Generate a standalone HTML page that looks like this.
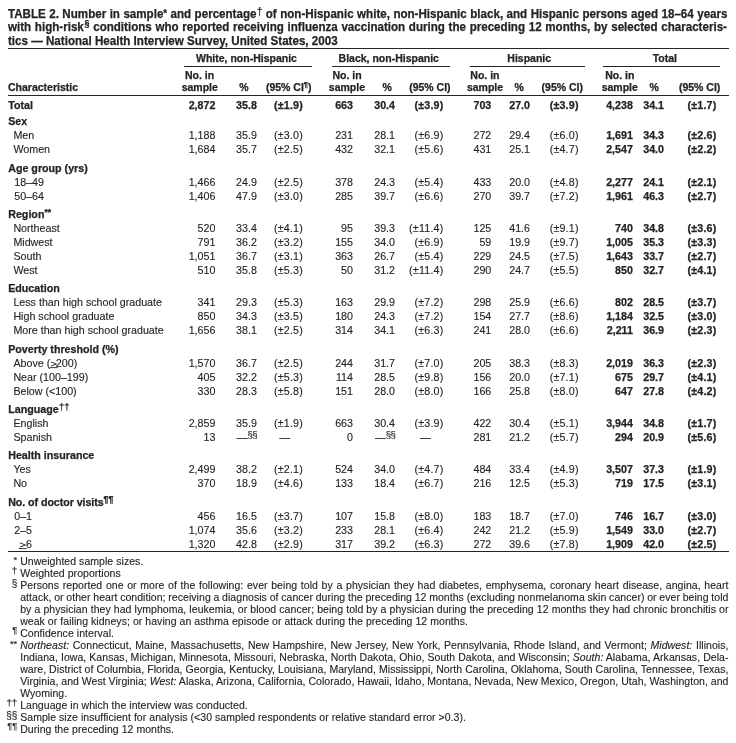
<!DOCTYPE html>
<html><head><meta charset="utf-8"><style>
html,body{margin:0;padding:0;background:#fff;}
body{filter:grayscale(1);width:736px;height:743px;position:relative;overflow:hidden;font-family:"Liberation Sans", sans-serif;color:#242424;-webkit-text-stroke:0.12px #242424;}
.t{position:absolute;white-space:nowrap;}
.j{white-space:normal;}
.r{position:absolute;background:#242424;}
sup{line-height:0;vertical-align:baseline;position:relative;}
sup.ta{top:-1.3px;font-size:10px;}
sup.td{top:-3.0px;margin-left:0.6px;font-size:10px;font-weight:normal;-webkit-text-stroke:0.25px currentColor;}
sup.ts{top:-4.6px;margin-left:0.8px;font-size:9.4px;}
sup.hp{top:-3.6px;font-size:7.5px;}
sup.la{top:-3.4px;font-size:8.5px;}
sup.ld{top:-3.2px;font-size:9.4px;font-weight:normal;-webkit-text-stroke:0.25px currentColor;margin-left:0.3px;}
sup.lp{top:-4.4px;font-size:8.8px;}
.ss{font-size:9.6px;position:relative;top:-2.6px;letter-spacing:-0.5px;}
.ge{vertical-align:-2px;overflow:visible;margin-right:0px;}
.ga .ge{margin-right:-1.4px;}
u{text-decoration:underline;text-decoration-thickness:1px;text-underline-offset:1px;}
</style></head><body>
<div class="t" style="top:8px;left:8.4px;font-size:12.2px;line-height:12.2px;transform:scaleX(0.951);transform-origin:0 0;font-weight:bold;-webkit-text-stroke:0.25px currentColor;word-spacing:0.262px;">TABLE 2. Number in sample<sup class="ta">*</sup> and percentage<sup class="td">†</sup> of non-Hispanic white, non-Hispanic black, and Hispanic persons aged 18–64 years</div>
<div class="t" style="top:21px;left:8.4px;font-size:12.2px;line-height:12.2px;transform:scaleX(0.951);transform-origin:0 0;font-weight:bold;-webkit-text-stroke:0.25px currentColor;word-spacing:0.471px;">with high-risk<sup class="ts">§</sup> conditions who reported receiving influenza vaccination during the preceding 12 months, by selected characteris-</div>
<div class="t" style="top:35px;left:8.4px;font-size:12.2px;line-height:12.2px;transform:scaleX(0.951);transform-origin:0 0;font-weight:bold;-webkit-text-stroke:0.25px currentColor;">tics — National Health Interview Survey, United States, 2003</div>
<div class="r" style="left:8px;top:48px;width:721px;height:1px"></div>
<div class="t" style="top:53px;font-size:10.5px;line-height:10.5px;font-weight:bold;-webkit-text-stroke:0.25px currentColor;left:196.00px;">White, non-Hispanic</div>
<div class="r" style="left:184px;top:66px;width:128px;height:1px"></div>
<div class="t" style="top:53px;font-size:10.5px;line-height:10.5px;font-weight:bold;-webkit-text-stroke:0.25px currentColor;left:338.60px;">Black, non-Hispanic</div>
<div class="r" style="left:332px;top:66px;width:118px;height:1px"></div>
<div class="t" style="top:53px;font-size:10.5px;line-height:10.5px;font-weight:bold;-webkit-text-stroke:0.25px currentColor;left:507.30px;">Hispanic</div>
<div class="r" style="left:470px;top:66px;width:115px;height:1px"></div>
<div class="t" style="top:53px;font-size:10.5px;line-height:10.5px;font-weight:bold;-webkit-text-stroke:0.25px currentColor;left:652.70px;">Total</div>
<div class="r" style="left:603px;top:66px;width:117px;height:1px"></div>
<div class="t" style="top:70px;font-size:10.5px;line-height:10.5px;font-weight:bold;-webkit-text-stroke:0.25px currentColor;left:185.00px;">No. in</div>
<div class="t" style="top:82px;font-size:10.5px;line-height:10.5px;font-weight:bold;-webkit-text-stroke:0.25px currentColor;left:181.70px;">sample</div>
<div class="t" style="top:82px;font-size:10.5px;line-height:10.5px;font-weight:bold;-webkit-text-stroke:0.25px currentColor;left:239.20px;">%</div>
<div class="t" style="top:82px;font-size:10.5px;line-height:10.5px;font-weight:bold;-webkit-text-stroke:0.25px currentColor;left:265.90px;">(95% CI<sup class="hp">¶</sup>)</div>
<div class="t" style="top:70px;font-size:10.5px;line-height:10.5px;font-weight:bold;-webkit-text-stroke:0.25px currentColor;left:332.40px;">No. in</div>
<div class="t" style="top:82px;font-size:10.5px;line-height:10.5px;font-weight:bold;-webkit-text-stroke:0.25px currentColor;left:328.80px;">sample</div>
<div class="t" style="top:82px;font-size:10.5px;line-height:10.5px;font-weight:bold;-webkit-text-stroke:0.25px currentColor;left:382.60px;">%</div>
<div class="t" style="top:82px;font-size:10.5px;line-height:10.5px;font-weight:bold;-webkit-text-stroke:0.25px currentColor;left:409.20px;">(95% CI)</div>
<div class="t" style="top:70px;font-size:10.5px;line-height:10.5px;font-weight:bold;-webkit-text-stroke:0.25px currentColor;left:470.30px;">No. in</div>
<div class="t" style="top:82px;font-size:10.5px;line-height:10.5px;font-weight:bold;-webkit-text-stroke:0.25px currentColor;left:466.90px;">sample</div>
<div class="t" style="top:82px;font-size:10.5px;line-height:10.5px;font-weight:bold;-webkit-text-stroke:0.25px currentColor;left:514.40px;">%</div>
<div class="t" style="top:82px;font-size:10.5px;line-height:10.5px;font-weight:bold;-webkit-text-stroke:0.25px currentColor;left:541.60px;">(95% CI)</div>
<div class="t" style="top:70px;font-size:10.5px;line-height:10.5px;font-weight:bold;-webkit-text-stroke:0.25px currentColor;left:605.20px;">No. in</div>
<div class="t" style="top:82px;font-size:10.5px;line-height:10.5px;font-weight:bold;-webkit-text-stroke:0.25px currentColor;left:601.70px;">sample</div>
<div class="t" style="top:82px;font-size:10.5px;line-height:10.5px;font-weight:bold;-webkit-text-stroke:0.25px currentColor;left:649.50px;">%</div>
<div class="t" style="top:82px;font-size:10.5px;line-height:10.5px;font-weight:bold;-webkit-text-stroke:0.25px currentColor;left:678.90px;">(95% CI)</div>
<div class="t" style="top:82px;font-size:10.5px;line-height:10.5px;font-weight:bold;-webkit-text-stroke:0.25px currentColor;left:8.00px;">Characteristic</div>
<div class="r" style="left:8px;top:95px;width:721px;height:1px"></div>
<div class="t" style="top:100px;font-size:10.7px;line-height:10.7px;font-weight:bold;-webkit-text-stroke:0.25px currentColor;left:8.20px;">Total</div>
<div class="t" style="top:100px;font-size:10.7px;line-height:10.7px;font-weight:bold;-webkit-text-stroke:0.25px currentColor;right:520.60px;">2,872</div>
<div class="t" style="top:100px;font-size:10.7px;line-height:10.7px;font-weight:bold;-webkit-text-stroke:0.25px currentColor;right:479.10px;">35.8</div>
<div class="t" style="top:100px;font-size:10.7px;line-height:10.7px;font-weight:bold;-webkit-text-stroke:0.25px currentColor;right:433.00px;letter-spacing:0.2px;">(±1.9)</div>
<div class="t" style="top:100px;font-size:10.7px;line-height:10.7px;font-weight:bold;-webkit-text-stroke:0.25px currentColor;right:383.00px;">663</div>
<div class="t" style="top:100px;font-size:10.7px;line-height:10.7px;font-weight:bold;-webkit-text-stroke:0.25px currentColor;right:341.00px;">30.4</div>
<div class="t" style="top:100px;font-size:10.7px;line-height:10.7px;font-weight:bold;-webkit-text-stroke:0.25px currentColor;right:292.50px;letter-spacing:0.2px;">(±3.9)</div>
<div class="t" style="top:100px;font-size:10.7px;line-height:10.7px;font-weight:bold;-webkit-text-stroke:0.25px currentColor;right:244.70px;">703</div>
<div class="t" style="top:100px;font-size:10.7px;line-height:10.7px;font-weight:bold;-webkit-text-stroke:0.25px currentColor;right:206.00px;">27.0</div>
<div class="t" style="top:100px;font-size:10.7px;line-height:10.7px;font-weight:bold;-webkit-text-stroke:0.25px currentColor;right:157.30px;letter-spacing:0.2px;">(±3.9)</div>
<div class="t" style="top:100px;font-size:10.7px;line-height:10.7px;font-weight:bold;-webkit-text-stroke:0.25px currentColor;right:103.10px;">4,238</div>
<div class="t" style="top:100px;font-size:10.7px;line-height:10.7px;font-weight:bold;-webkit-text-stroke:0.25px currentColor;right:72.00px;">34.1</div>
<div class="t" style="top:100px;font-size:10.7px;line-height:10.7px;font-weight:bold;-webkit-text-stroke:0.25px currentColor;right:19.50px;letter-spacing:0.2px;">(±1.7)</div>
<div class="t" style="top:116px;font-size:10.7px;line-height:10.7px;font-weight:bold;-webkit-text-stroke:0.25px currentColor;left:8.20px;">Sex</div>
<div class="t" style="top:130px;font-size:10.7px;line-height:10.7px;left:13.40px;">Men</div>
<div class="t" style="top:130px;font-size:10.7px;line-height:10.7px;right:520.60px;">1,188</div>
<div class="t" style="top:130px;font-size:10.7px;line-height:10.7px;right:479.10px;">35.9</div>
<div class="t" style="top:130px;font-size:10.7px;line-height:10.7px;right:433.00px;letter-spacing:0.2px;">(±3.0)</div>
<div class="t" style="top:130px;font-size:10.7px;line-height:10.7px;right:383.00px;">231</div>
<div class="t" style="top:130px;font-size:10.7px;line-height:10.7px;right:341.00px;">28.1</div>
<div class="t" style="top:130px;font-size:10.7px;line-height:10.7px;right:292.50px;letter-spacing:0.2px;">(±6.9)</div>
<div class="t" style="top:130px;font-size:10.7px;line-height:10.7px;right:244.70px;">272</div>
<div class="t" style="top:130px;font-size:10.7px;line-height:10.7px;right:206.00px;">29.4</div>
<div class="t" style="top:130px;font-size:10.7px;line-height:10.7px;right:157.30px;letter-spacing:0.2px;">(±6.0)</div>
<div class="t" style="top:130px;font-size:10.7px;line-height:10.7px;font-weight:bold;-webkit-text-stroke:0.25px currentColor;right:103.10px;">1,691</div>
<div class="t" style="top:130px;font-size:10.7px;line-height:10.7px;font-weight:bold;-webkit-text-stroke:0.25px currentColor;right:72.00px;">34.3</div>
<div class="t" style="top:130px;font-size:10.7px;line-height:10.7px;font-weight:bold;-webkit-text-stroke:0.25px currentColor;right:19.50px;letter-spacing:0.2px;">(±2.6)</div>
<div class="t" style="top:144px;font-size:10.7px;line-height:10.7px;left:13.40px;">Women</div>
<div class="t" style="top:144px;font-size:10.7px;line-height:10.7px;right:520.60px;">1,684</div>
<div class="t" style="top:144px;font-size:10.7px;line-height:10.7px;right:479.10px;">35.7</div>
<div class="t" style="top:144px;font-size:10.7px;line-height:10.7px;right:433.00px;letter-spacing:0.2px;">(±2.5)</div>
<div class="t" style="top:144px;font-size:10.7px;line-height:10.7px;right:383.00px;">432</div>
<div class="t" style="top:144px;font-size:10.7px;line-height:10.7px;right:341.00px;">32.1</div>
<div class="t" style="top:144px;font-size:10.7px;line-height:10.7px;right:292.50px;letter-spacing:0.2px;">(±5.6)</div>
<div class="t" style="top:144px;font-size:10.7px;line-height:10.7px;right:244.70px;">431</div>
<div class="t" style="top:144px;font-size:10.7px;line-height:10.7px;right:206.00px;">25.1</div>
<div class="t" style="top:144px;font-size:10.7px;line-height:10.7px;right:157.30px;letter-spacing:0.2px;">(±4.7)</div>
<div class="t" style="top:144px;font-size:10.7px;line-height:10.7px;font-weight:bold;-webkit-text-stroke:0.25px currentColor;right:103.10px;">2,547</div>
<div class="t" style="top:144px;font-size:10.7px;line-height:10.7px;font-weight:bold;-webkit-text-stroke:0.25px currentColor;right:72.00px;">34.0</div>
<div class="t" style="top:144px;font-size:10.7px;line-height:10.7px;font-weight:bold;-webkit-text-stroke:0.25px currentColor;right:19.50px;letter-spacing:0.2px;">(±2.2)</div>
<div class="t" style="top:163px;font-size:10.7px;line-height:10.7px;font-weight:bold;-webkit-text-stroke:0.25px currentColor;left:8.20px;">Age group (yrs)</div>
<div class="t" style="top:177px;font-size:10.7px;line-height:10.7px;left:14.20px;">18–49</div>
<div class="t" style="top:177px;font-size:10.7px;line-height:10.7px;right:520.60px;">1,466</div>
<div class="t" style="top:177px;font-size:10.7px;line-height:10.7px;right:479.10px;">24.9</div>
<div class="t" style="top:177px;font-size:10.7px;line-height:10.7px;right:433.00px;letter-spacing:0.2px;">(±2.5)</div>
<div class="t" style="top:177px;font-size:10.7px;line-height:10.7px;right:383.00px;">378</div>
<div class="t" style="top:177px;font-size:10.7px;line-height:10.7px;right:341.00px;">24.3</div>
<div class="t" style="top:177px;font-size:10.7px;line-height:10.7px;right:292.50px;letter-spacing:0.2px;">(±5.4)</div>
<div class="t" style="top:177px;font-size:10.7px;line-height:10.7px;right:244.70px;">433</div>
<div class="t" style="top:177px;font-size:10.7px;line-height:10.7px;right:206.00px;">20.0</div>
<div class="t" style="top:177px;font-size:10.7px;line-height:10.7px;right:157.30px;letter-spacing:0.2px;">(±4.8)</div>
<div class="t" style="top:177px;font-size:10.7px;line-height:10.7px;font-weight:bold;-webkit-text-stroke:0.25px currentColor;right:103.10px;">2,277</div>
<div class="t" style="top:177px;font-size:10.7px;line-height:10.7px;font-weight:bold;-webkit-text-stroke:0.25px currentColor;right:72.00px;">24.1</div>
<div class="t" style="top:177px;font-size:10.7px;line-height:10.7px;font-weight:bold;-webkit-text-stroke:0.25px currentColor;right:19.50px;letter-spacing:0.2px;">(±2.1)</div>
<div class="t" style="top:191px;font-size:10.7px;line-height:10.7px;left:14.20px;">50–64</div>
<div class="t" style="top:191px;font-size:10.7px;line-height:10.7px;right:520.60px;">1,406</div>
<div class="t" style="top:191px;font-size:10.7px;line-height:10.7px;right:479.10px;">47.9</div>
<div class="t" style="top:191px;font-size:10.7px;line-height:10.7px;right:433.00px;letter-spacing:0.2px;">(±3.0)</div>
<div class="t" style="top:191px;font-size:10.7px;line-height:10.7px;right:383.00px;">285</div>
<div class="t" style="top:191px;font-size:10.7px;line-height:10.7px;right:341.00px;">39.7</div>
<div class="t" style="top:191px;font-size:10.7px;line-height:10.7px;right:292.50px;letter-spacing:0.2px;">(±6.6)</div>
<div class="t" style="top:191px;font-size:10.7px;line-height:10.7px;right:244.70px;">270</div>
<div class="t" style="top:191px;font-size:10.7px;line-height:10.7px;right:206.00px;">39.7</div>
<div class="t" style="top:191px;font-size:10.7px;line-height:10.7px;right:157.30px;letter-spacing:0.2px;">(±7.2)</div>
<div class="t" style="top:191px;font-size:10.7px;line-height:10.7px;font-weight:bold;-webkit-text-stroke:0.25px currentColor;right:103.10px;">1,961</div>
<div class="t" style="top:191px;font-size:10.7px;line-height:10.7px;font-weight:bold;-webkit-text-stroke:0.25px currentColor;right:72.00px;">46.3</div>
<div class="t" style="top:191px;font-size:10.7px;line-height:10.7px;font-weight:bold;-webkit-text-stroke:0.25px currentColor;right:19.50px;letter-spacing:0.2px;">(±2.7)</div>
<div class="t" style="top:209px;font-size:10.7px;line-height:10.7px;font-weight:bold;-webkit-text-stroke:0.25px currentColor;left:8.20px;">Region<sup class="la">**</sup></div>
<div class="t" style="top:223px;font-size:10.7px;line-height:10.7px;left:13.40px;">Northeast</div>
<div class="t" style="top:223px;font-size:10.7px;line-height:10.7px;right:520.60px;">520</div>
<div class="t" style="top:223px;font-size:10.7px;line-height:10.7px;right:479.10px;">33.4</div>
<div class="t" style="top:223px;font-size:10.7px;line-height:10.7px;right:433.00px;letter-spacing:0.2px;">(±4.1)</div>
<div class="t" style="top:223px;font-size:10.7px;line-height:10.7px;right:383.00px;">95</div>
<div class="t" style="top:223px;font-size:10.7px;line-height:10.7px;right:341.00px;">39.3</div>
<div class="t" style="top:223px;font-size:10.7px;line-height:10.7px;right:292.50px;letter-spacing:0.2px;">(±11.4)</div>
<div class="t" style="top:223px;font-size:10.7px;line-height:10.7px;right:244.70px;">125</div>
<div class="t" style="top:223px;font-size:10.7px;line-height:10.7px;right:206.00px;">41.6</div>
<div class="t" style="top:223px;font-size:10.7px;line-height:10.7px;right:157.30px;letter-spacing:0.2px;">(±9.1)</div>
<div class="t" style="top:223px;font-size:10.7px;line-height:10.7px;font-weight:bold;-webkit-text-stroke:0.25px currentColor;right:103.10px;">740</div>
<div class="t" style="top:223px;font-size:10.7px;line-height:10.7px;font-weight:bold;-webkit-text-stroke:0.25px currentColor;right:72.00px;">34.8</div>
<div class="t" style="top:223px;font-size:10.7px;line-height:10.7px;font-weight:bold;-webkit-text-stroke:0.25px currentColor;right:19.50px;letter-spacing:0.2px;">(±3.6)</div>
<div class="t" style="top:237px;font-size:10.7px;line-height:10.7px;left:13.40px;">Midwest</div>
<div class="t" style="top:237px;font-size:10.7px;line-height:10.7px;right:520.60px;">791</div>
<div class="t" style="top:237px;font-size:10.7px;line-height:10.7px;right:479.10px;">36.2</div>
<div class="t" style="top:237px;font-size:10.7px;line-height:10.7px;right:433.00px;letter-spacing:0.2px;">(±3.2)</div>
<div class="t" style="top:237px;font-size:10.7px;line-height:10.7px;right:383.00px;">155</div>
<div class="t" style="top:237px;font-size:10.7px;line-height:10.7px;right:341.00px;">34.0</div>
<div class="t" style="top:237px;font-size:10.7px;line-height:10.7px;right:292.50px;letter-spacing:0.2px;">(±6.9)</div>
<div class="t" style="top:237px;font-size:10.7px;line-height:10.7px;right:244.70px;">59</div>
<div class="t" style="top:237px;font-size:10.7px;line-height:10.7px;right:206.00px;">19.9</div>
<div class="t" style="top:237px;font-size:10.7px;line-height:10.7px;right:157.30px;letter-spacing:0.2px;">(±9.7)</div>
<div class="t" style="top:237px;font-size:10.7px;line-height:10.7px;font-weight:bold;-webkit-text-stroke:0.25px currentColor;right:103.10px;">1,005</div>
<div class="t" style="top:237px;font-size:10.7px;line-height:10.7px;font-weight:bold;-webkit-text-stroke:0.25px currentColor;right:72.00px;">35.3</div>
<div class="t" style="top:237px;font-size:10.7px;line-height:10.7px;font-weight:bold;-webkit-text-stroke:0.25px currentColor;right:19.50px;letter-spacing:0.2px;">(±3.3)</div>
<div class="t" style="top:251px;font-size:10.7px;line-height:10.7px;left:13.40px;">South</div>
<div class="t" style="top:251px;font-size:10.7px;line-height:10.7px;right:520.60px;">1,051</div>
<div class="t" style="top:251px;font-size:10.7px;line-height:10.7px;right:479.10px;">36.7</div>
<div class="t" style="top:251px;font-size:10.7px;line-height:10.7px;right:433.00px;letter-spacing:0.2px;">(±3.1)</div>
<div class="t" style="top:251px;font-size:10.7px;line-height:10.7px;right:383.00px;">363</div>
<div class="t" style="top:251px;font-size:10.7px;line-height:10.7px;right:341.00px;">26.7</div>
<div class="t" style="top:251px;font-size:10.7px;line-height:10.7px;right:292.50px;letter-spacing:0.2px;">(±5.4)</div>
<div class="t" style="top:251px;font-size:10.7px;line-height:10.7px;right:244.70px;">229</div>
<div class="t" style="top:251px;font-size:10.7px;line-height:10.7px;right:206.00px;">24.5</div>
<div class="t" style="top:251px;font-size:10.7px;line-height:10.7px;right:157.30px;letter-spacing:0.2px;">(±7.5)</div>
<div class="t" style="top:251px;font-size:10.7px;line-height:10.7px;font-weight:bold;-webkit-text-stroke:0.25px currentColor;right:103.10px;">1,643</div>
<div class="t" style="top:251px;font-size:10.7px;line-height:10.7px;font-weight:bold;-webkit-text-stroke:0.25px currentColor;right:72.00px;">33.7</div>
<div class="t" style="top:251px;font-size:10.7px;line-height:10.7px;font-weight:bold;-webkit-text-stroke:0.25px currentColor;right:19.50px;letter-spacing:0.2px;">(±2.7)</div>
<div class="t" style="top:265px;font-size:10.7px;line-height:10.7px;left:13.40px;">West</div>
<div class="t" style="top:265px;font-size:10.7px;line-height:10.7px;right:520.60px;">510</div>
<div class="t" style="top:265px;font-size:10.7px;line-height:10.7px;right:479.10px;">35.8</div>
<div class="t" style="top:265px;font-size:10.7px;line-height:10.7px;right:433.00px;letter-spacing:0.2px;">(±5.3)</div>
<div class="t" style="top:265px;font-size:10.7px;line-height:10.7px;right:383.00px;">50</div>
<div class="t" style="top:265px;font-size:10.7px;line-height:10.7px;right:341.00px;">31.2</div>
<div class="t" style="top:265px;font-size:10.7px;line-height:10.7px;right:292.50px;letter-spacing:0.2px;">(±11.4)</div>
<div class="t" style="top:265px;font-size:10.7px;line-height:10.7px;right:244.70px;">290</div>
<div class="t" style="top:265px;font-size:10.7px;line-height:10.7px;right:206.00px;">24.7</div>
<div class="t" style="top:265px;font-size:10.7px;line-height:10.7px;right:157.30px;letter-spacing:0.2px;">(±5.5)</div>
<div class="t" style="top:265px;font-size:10.7px;line-height:10.7px;font-weight:bold;-webkit-text-stroke:0.25px currentColor;right:103.10px;">850</div>
<div class="t" style="top:265px;font-size:10.7px;line-height:10.7px;font-weight:bold;-webkit-text-stroke:0.25px currentColor;right:72.00px;">32.7</div>
<div class="t" style="top:265px;font-size:10.7px;line-height:10.7px;font-weight:bold;-webkit-text-stroke:0.25px currentColor;right:19.50px;letter-spacing:0.2px;">(±4.1)</div>
<div class="t" style="top:283px;font-size:10.7px;line-height:10.7px;font-weight:bold;-webkit-text-stroke:0.25px currentColor;left:8.20px;">Education</div>
<div class="t" style="top:297px;font-size:10.7px;line-height:10.7px;left:13.40px;">Less than high school graduate</div>
<div class="t" style="top:297px;font-size:10.7px;line-height:10.7px;right:520.60px;">341</div>
<div class="t" style="top:297px;font-size:10.7px;line-height:10.7px;right:479.10px;">29.3</div>
<div class="t" style="top:297px;font-size:10.7px;line-height:10.7px;right:433.00px;letter-spacing:0.2px;">(±5.3)</div>
<div class="t" style="top:297px;font-size:10.7px;line-height:10.7px;right:383.00px;">163</div>
<div class="t" style="top:297px;font-size:10.7px;line-height:10.7px;right:341.00px;">29.9</div>
<div class="t" style="top:297px;font-size:10.7px;line-height:10.7px;right:292.50px;letter-spacing:0.2px;">(±7.2)</div>
<div class="t" style="top:297px;font-size:10.7px;line-height:10.7px;right:244.70px;">298</div>
<div class="t" style="top:297px;font-size:10.7px;line-height:10.7px;right:206.00px;">25.9</div>
<div class="t" style="top:297px;font-size:10.7px;line-height:10.7px;right:157.30px;letter-spacing:0.2px;">(±6.6)</div>
<div class="t" style="top:297px;font-size:10.7px;line-height:10.7px;font-weight:bold;-webkit-text-stroke:0.25px currentColor;right:103.10px;">802</div>
<div class="t" style="top:297px;font-size:10.7px;line-height:10.7px;font-weight:bold;-webkit-text-stroke:0.25px currentColor;right:72.00px;">28.5</div>
<div class="t" style="top:297px;font-size:10.7px;line-height:10.7px;font-weight:bold;-webkit-text-stroke:0.25px currentColor;right:19.50px;letter-spacing:0.2px;">(±3.7)</div>
<div class="t" style="top:311px;font-size:10.7px;line-height:10.7px;left:13.40px;">High school graduate</div>
<div class="t" style="top:311px;font-size:10.7px;line-height:10.7px;right:520.60px;">850</div>
<div class="t" style="top:311px;font-size:10.7px;line-height:10.7px;right:479.10px;">34.3</div>
<div class="t" style="top:311px;font-size:10.7px;line-height:10.7px;right:433.00px;letter-spacing:0.2px;">(±3.5)</div>
<div class="t" style="top:311px;font-size:10.7px;line-height:10.7px;right:383.00px;">180</div>
<div class="t" style="top:311px;font-size:10.7px;line-height:10.7px;right:341.00px;">24.3</div>
<div class="t" style="top:311px;font-size:10.7px;line-height:10.7px;right:292.50px;letter-spacing:0.2px;">(±7.2)</div>
<div class="t" style="top:311px;font-size:10.7px;line-height:10.7px;right:244.70px;">154</div>
<div class="t" style="top:311px;font-size:10.7px;line-height:10.7px;right:206.00px;">27.7</div>
<div class="t" style="top:311px;font-size:10.7px;line-height:10.7px;right:157.30px;letter-spacing:0.2px;">(±8.6)</div>
<div class="t" style="top:311px;font-size:10.7px;line-height:10.7px;font-weight:bold;-webkit-text-stroke:0.25px currentColor;right:103.10px;">1,184</div>
<div class="t" style="top:311px;font-size:10.7px;line-height:10.7px;font-weight:bold;-webkit-text-stroke:0.25px currentColor;right:72.00px;">32.5</div>
<div class="t" style="top:311px;font-size:10.7px;line-height:10.7px;font-weight:bold;-webkit-text-stroke:0.25px currentColor;right:19.50px;letter-spacing:0.2px;">(±3.0)</div>
<div class="t" style="top:325px;font-size:10.7px;line-height:10.7px;left:13.40px;">More than high school graduate</div>
<div class="t" style="top:325px;font-size:10.7px;line-height:10.7px;right:520.60px;">1,656</div>
<div class="t" style="top:325px;font-size:10.7px;line-height:10.7px;right:479.10px;">38.1</div>
<div class="t" style="top:325px;font-size:10.7px;line-height:10.7px;right:433.00px;letter-spacing:0.2px;">(±2.5)</div>
<div class="t" style="top:325px;font-size:10.7px;line-height:10.7px;right:383.00px;">314</div>
<div class="t" style="top:325px;font-size:10.7px;line-height:10.7px;right:341.00px;">34.1</div>
<div class="t" style="top:325px;font-size:10.7px;line-height:10.7px;right:292.50px;letter-spacing:0.2px;">(±6.3)</div>
<div class="t" style="top:325px;font-size:10.7px;line-height:10.7px;right:244.70px;">241</div>
<div class="t" style="top:325px;font-size:10.7px;line-height:10.7px;right:206.00px;">28.0</div>
<div class="t" style="top:325px;font-size:10.7px;line-height:10.7px;right:157.30px;letter-spacing:0.2px;">(±6.6)</div>
<div class="t" style="top:325px;font-size:10.7px;line-height:10.7px;font-weight:bold;-webkit-text-stroke:0.25px currentColor;right:103.10px;">2,211</div>
<div class="t" style="top:325px;font-size:10.7px;line-height:10.7px;font-weight:bold;-webkit-text-stroke:0.25px currentColor;right:72.00px;">36.9</div>
<div class="t" style="top:325px;font-size:10.7px;line-height:10.7px;font-weight:bold;-webkit-text-stroke:0.25px currentColor;right:19.50px;letter-spacing:0.2px;">(±2.3)</div>
<div class="t" style="top:344px;font-size:10.7px;line-height:10.7px;font-weight:bold;-webkit-text-stroke:0.25px currentColor;left:8.20px;">Poverty threshold (%)</div>
<div class="t ga" style="top:358px;font-size:10.7px;line-height:10.7px;left:13.40px;">Above (<svg class="ge" width="7" height="10" viewBox="0 0 7 10"><polyline points="1,2.9 6.4,5 1,7.1" fill="none" stroke="currentColor" stroke-width="0.95" stroke-linejoin="round"/><rect x="-0.2" y="8.2" width="7.9" height="0.9" fill="currentColor"/></svg>200)</div>
<div class="t" style="top:358px;font-size:10.7px;line-height:10.7px;right:520.60px;">1,570</div>
<div class="t" style="top:358px;font-size:10.7px;line-height:10.7px;right:479.10px;">36.7</div>
<div class="t" style="top:358px;font-size:10.7px;line-height:10.7px;right:433.00px;letter-spacing:0.2px;">(±2.5)</div>
<div class="t" style="top:358px;font-size:10.7px;line-height:10.7px;right:383.00px;">244</div>
<div class="t" style="top:358px;font-size:10.7px;line-height:10.7px;right:341.00px;">31.7</div>
<div class="t" style="top:358px;font-size:10.7px;line-height:10.7px;right:292.50px;letter-spacing:0.2px;">(±7.0)</div>
<div class="t" style="top:358px;font-size:10.7px;line-height:10.7px;right:244.70px;">205</div>
<div class="t" style="top:358px;font-size:10.7px;line-height:10.7px;right:206.00px;">38.3</div>
<div class="t" style="top:358px;font-size:10.7px;line-height:10.7px;right:157.30px;letter-spacing:0.2px;">(±8.3)</div>
<div class="t" style="top:358px;font-size:10.7px;line-height:10.7px;font-weight:bold;-webkit-text-stroke:0.25px currentColor;right:103.10px;">2,019</div>
<div class="t" style="top:358px;font-size:10.7px;line-height:10.7px;font-weight:bold;-webkit-text-stroke:0.25px currentColor;right:72.00px;">36.3</div>
<div class="t" style="top:358px;font-size:10.7px;line-height:10.7px;font-weight:bold;-webkit-text-stroke:0.25px currentColor;right:19.50px;letter-spacing:0.2px;">(±2.3)</div>
<div class="t" style="top:372px;font-size:10.7px;line-height:10.7px;left:13.40px;">Near (100–199)</div>
<div class="t" style="top:372px;font-size:10.7px;line-height:10.7px;right:520.60px;">405</div>
<div class="t" style="top:372px;font-size:10.7px;line-height:10.7px;right:479.10px;">32.2</div>
<div class="t" style="top:372px;font-size:10.7px;line-height:10.7px;right:433.00px;letter-spacing:0.2px;">(±5.3)</div>
<div class="t" style="top:372px;font-size:10.7px;line-height:10.7px;right:383.00px;">114</div>
<div class="t" style="top:372px;font-size:10.7px;line-height:10.7px;right:341.00px;">28.5</div>
<div class="t" style="top:372px;font-size:10.7px;line-height:10.7px;right:292.50px;letter-spacing:0.2px;">(±9.8)</div>
<div class="t" style="top:372px;font-size:10.7px;line-height:10.7px;right:244.70px;">156</div>
<div class="t" style="top:372px;font-size:10.7px;line-height:10.7px;right:206.00px;">20.0</div>
<div class="t" style="top:372px;font-size:10.7px;line-height:10.7px;right:157.30px;letter-spacing:0.2px;">(±7.1)</div>
<div class="t" style="top:372px;font-size:10.7px;line-height:10.7px;font-weight:bold;-webkit-text-stroke:0.25px currentColor;right:103.10px;">675</div>
<div class="t" style="top:372px;font-size:10.7px;line-height:10.7px;font-weight:bold;-webkit-text-stroke:0.25px currentColor;right:72.00px;">29.7</div>
<div class="t" style="top:372px;font-size:10.7px;line-height:10.7px;font-weight:bold;-webkit-text-stroke:0.25px currentColor;right:19.50px;letter-spacing:0.2px;">(±4.1)</div>
<div class="t" style="top:386px;font-size:10.7px;line-height:10.7px;left:13.40px;">Below (&lt;100)</div>
<div class="t" style="top:386px;font-size:10.7px;line-height:10.7px;right:520.60px;">330</div>
<div class="t" style="top:386px;font-size:10.7px;line-height:10.7px;right:479.10px;">28.3</div>
<div class="t" style="top:386px;font-size:10.7px;line-height:10.7px;right:433.00px;letter-spacing:0.2px;">(±5.8)</div>
<div class="t" style="top:386px;font-size:10.7px;line-height:10.7px;right:383.00px;">151</div>
<div class="t" style="top:386px;font-size:10.7px;line-height:10.7px;right:341.00px;">28.0</div>
<div class="t" style="top:386px;font-size:10.7px;line-height:10.7px;right:292.50px;letter-spacing:0.2px;">(±8.0)</div>
<div class="t" style="top:386px;font-size:10.7px;line-height:10.7px;right:244.70px;">166</div>
<div class="t" style="top:386px;font-size:10.7px;line-height:10.7px;right:206.00px;">25.8</div>
<div class="t" style="top:386px;font-size:10.7px;line-height:10.7px;right:157.30px;letter-spacing:0.2px;">(±8.0)</div>
<div class="t" style="top:386px;font-size:10.7px;line-height:10.7px;font-weight:bold;-webkit-text-stroke:0.25px currentColor;right:103.10px;">647</div>
<div class="t" style="top:386px;font-size:10.7px;line-height:10.7px;font-weight:bold;-webkit-text-stroke:0.25px currentColor;right:72.00px;">27.8</div>
<div class="t" style="top:386px;font-size:10.7px;line-height:10.7px;font-weight:bold;-webkit-text-stroke:0.25px currentColor;right:19.50px;letter-spacing:0.2px;">(±4.2)</div>
<div class="t" style="top:404px;font-size:10.7px;line-height:10.7px;font-weight:bold;-webkit-text-stroke:0.25px currentColor;left:8.20px;">Language<sup class="ld">††</sup></div>
<div class="t" style="top:418px;font-size:10.7px;line-height:10.7px;left:13.40px;">English</div>
<div class="t" style="top:418px;font-size:10.7px;line-height:10.7px;right:520.60px;">2,859</div>
<div class="t" style="top:418px;font-size:10.7px;line-height:10.7px;right:479.10px;">35.9</div>
<div class="t" style="top:418px;font-size:10.7px;line-height:10.7px;right:433.00px;letter-spacing:0.2px;">(±1.9)</div>
<div class="t" style="top:418px;font-size:10.7px;line-height:10.7px;right:383.00px;">663</div>
<div class="t" style="top:418px;font-size:10.7px;line-height:10.7px;right:341.00px;">30.4</div>
<div class="t" style="top:418px;font-size:10.7px;line-height:10.7px;right:292.50px;letter-spacing:0.2px;">(±3.9)</div>
<div class="t" style="top:418px;font-size:10.7px;line-height:10.7px;right:244.70px;">422</div>
<div class="t" style="top:418px;font-size:10.7px;line-height:10.7px;right:206.00px;">30.4</div>
<div class="t" style="top:418px;font-size:10.7px;line-height:10.7px;right:157.30px;letter-spacing:0.2px;">(±5.1)</div>
<div class="t" style="top:418px;font-size:10.7px;line-height:10.7px;font-weight:bold;-webkit-text-stroke:0.25px currentColor;right:103.10px;">3,944</div>
<div class="t" style="top:418px;font-size:10.7px;line-height:10.7px;font-weight:bold;-webkit-text-stroke:0.25px currentColor;right:72.00px;">34.8</div>
<div class="t" style="top:418px;font-size:10.7px;line-height:10.7px;font-weight:bold;-webkit-text-stroke:0.25px currentColor;right:19.50px;letter-spacing:0.2px;">(±1.7)</div>
<div class="t" style="top:432px;font-size:10.7px;line-height:10.7px;left:13.40px;">Spanish</div>
<div class="t" style="top:432px;font-size:10.7px;line-height:10.7px;right:520.60px;">13</div>
<div class="t" style="top:432px;font-size:10.7px;line-height:10.7px;right:478.80px;">—<span class="ss">§§</span></div>
<div class="t" style="top:432px;font-size:10.7px;line-height:10.7px;right:445.90px;">—</div>
<div class="t" style="top:432px;font-size:10.7px;line-height:10.7px;right:383.00px;">0</div>
<div class="t" style="top:432px;font-size:10.7px;line-height:10.7px;right:340.70px;">—<span class="ss">§§</span></div>
<div class="t" style="top:432px;font-size:10.7px;line-height:10.7px;right:305.40px;">—</div>
<div class="t" style="top:432px;font-size:10.7px;line-height:10.7px;right:244.70px;">281</div>
<div class="t" style="top:432px;font-size:10.7px;line-height:10.7px;right:206.00px;">21.2</div>
<div class="t" style="top:432px;font-size:10.7px;line-height:10.7px;right:157.30px;letter-spacing:0.2px;">(±5.7)</div>
<div class="t" style="top:432px;font-size:10.7px;line-height:10.7px;font-weight:bold;-webkit-text-stroke:0.25px currentColor;right:103.10px;">294</div>
<div class="t" style="top:432px;font-size:10.7px;line-height:10.7px;font-weight:bold;-webkit-text-stroke:0.25px currentColor;right:72.00px;">20.9</div>
<div class="t" style="top:432px;font-size:10.7px;line-height:10.7px;font-weight:bold;-webkit-text-stroke:0.25px currentColor;right:19.50px;letter-spacing:0.2px;">(±5.6)</div>
<div class="t" style="top:450px;font-size:10.7px;line-height:10.7px;font-weight:bold;-webkit-text-stroke:0.25px currentColor;left:8.20px;">Health insurance</div>
<div class="t" style="top:464px;font-size:10.7px;line-height:10.7px;left:13.40px;">Yes</div>
<div class="t" style="top:464px;font-size:10.7px;line-height:10.7px;right:520.60px;">2,499</div>
<div class="t" style="top:464px;font-size:10.7px;line-height:10.7px;right:479.10px;">38.2</div>
<div class="t" style="top:464px;font-size:10.7px;line-height:10.7px;right:433.00px;letter-spacing:0.2px;">(±2.1)</div>
<div class="t" style="top:464px;font-size:10.7px;line-height:10.7px;right:383.00px;">524</div>
<div class="t" style="top:464px;font-size:10.7px;line-height:10.7px;right:341.00px;">34.0</div>
<div class="t" style="top:464px;font-size:10.7px;line-height:10.7px;right:292.50px;letter-spacing:0.2px;">(±4.7)</div>
<div class="t" style="top:464px;font-size:10.7px;line-height:10.7px;right:244.70px;">484</div>
<div class="t" style="top:464px;font-size:10.7px;line-height:10.7px;right:206.00px;">33.4</div>
<div class="t" style="top:464px;font-size:10.7px;line-height:10.7px;right:157.30px;letter-spacing:0.2px;">(±4.9)</div>
<div class="t" style="top:464px;font-size:10.7px;line-height:10.7px;font-weight:bold;-webkit-text-stroke:0.25px currentColor;right:103.10px;">3,507</div>
<div class="t" style="top:464px;font-size:10.7px;line-height:10.7px;font-weight:bold;-webkit-text-stroke:0.25px currentColor;right:72.00px;">37.3</div>
<div class="t" style="top:464px;font-size:10.7px;line-height:10.7px;font-weight:bold;-webkit-text-stroke:0.25px currentColor;right:19.50px;letter-spacing:0.2px;">(±1.9)</div>
<div class="t" style="top:478px;font-size:10.7px;line-height:10.7px;left:13.40px;">No</div>
<div class="t" style="top:478px;font-size:10.7px;line-height:10.7px;right:520.60px;">370</div>
<div class="t" style="top:478px;font-size:10.7px;line-height:10.7px;right:479.10px;">18.9</div>
<div class="t" style="top:478px;font-size:10.7px;line-height:10.7px;right:433.00px;letter-spacing:0.2px;">(±4.6)</div>
<div class="t" style="top:478px;font-size:10.7px;line-height:10.7px;right:383.00px;">133</div>
<div class="t" style="top:478px;font-size:10.7px;line-height:10.7px;right:341.00px;">18.4</div>
<div class="t" style="top:478px;font-size:10.7px;line-height:10.7px;right:292.50px;letter-spacing:0.2px;">(±6.7)</div>
<div class="t" style="top:478px;font-size:10.7px;line-height:10.7px;right:244.70px;">216</div>
<div class="t" style="top:478px;font-size:10.7px;line-height:10.7px;right:206.00px;">12.5</div>
<div class="t" style="top:478px;font-size:10.7px;line-height:10.7px;right:157.30px;letter-spacing:0.2px;">(±5.3)</div>
<div class="t" style="top:478px;font-size:10.7px;line-height:10.7px;font-weight:bold;-webkit-text-stroke:0.25px currentColor;right:103.10px;">719</div>
<div class="t" style="top:478px;font-size:10.7px;line-height:10.7px;font-weight:bold;-webkit-text-stroke:0.25px currentColor;right:72.00px;">17.5</div>
<div class="t" style="top:478px;font-size:10.7px;line-height:10.7px;font-weight:bold;-webkit-text-stroke:0.25px currentColor;right:19.50px;letter-spacing:0.2px;">(±3.1)</div>
<div class="t" style="top:497px;font-size:10.7px;line-height:10.7px;font-weight:bold;-webkit-text-stroke:0.25px currentColor;left:8.20px;"><span style="letter-spacing:-0.07px">No. of doctor visits</span><sup class="lp">¶¶</sup></div>
<div class="t" style="top:511px;font-size:10.7px;line-height:10.7px;left:14.20px;">0–1</div>
<div class="t" style="top:511px;font-size:10.7px;line-height:10.7px;right:520.60px;">456</div>
<div class="t" style="top:511px;font-size:10.7px;line-height:10.7px;right:479.10px;">16.5</div>
<div class="t" style="top:511px;font-size:10.7px;line-height:10.7px;right:433.00px;letter-spacing:0.2px;">(±3.7)</div>
<div class="t" style="top:511px;font-size:10.7px;line-height:10.7px;right:383.00px;">107</div>
<div class="t" style="top:511px;font-size:10.7px;line-height:10.7px;right:341.00px;">15.8</div>
<div class="t" style="top:511px;font-size:10.7px;line-height:10.7px;right:292.50px;letter-spacing:0.2px;">(±8.0)</div>
<div class="t" style="top:511px;font-size:10.7px;line-height:10.7px;right:244.70px;">183</div>
<div class="t" style="top:511px;font-size:10.7px;line-height:10.7px;right:206.00px;">18.7</div>
<div class="t" style="top:511px;font-size:10.7px;line-height:10.7px;right:157.30px;letter-spacing:0.2px;">(±7.0)</div>
<div class="t" style="top:511px;font-size:10.7px;line-height:10.7px;font-weight:bold;-webkit-text-stroke:0.25px currentColor;right:103.10px;">746</div>
<div class="t" style="top:511px;font-size:10.7px;line-height:10.7px;font-weight:bold;-webkit-text-stroke:0.25px currentColor;right:72.00px;">16.7</div>
<div class="t" style="top:511px;font-size:10.7px;line-height:10.7px;font-weight:bold;-webkit-text-stroke:0.25px currentColor;right:19.50px;letter-spacing:0.2px;">(±3.0)</div>
<div class="t" style="top:525px;font-size:10.7px;line-height:10.7px;left:14.20px;">2–5</div>
<div class="t" style="top:525px;font-size:10.7px;line-height:10.7px;right:520.60px;">1,074</div>
<div class="t" style="top:525px;font-size:10.7px;line-height:10.7px;right:479.10px;">35.6</div>
<div class="t" style="top:525px;font-size:10.7px;line-height:10.7px;right:433.00px;letter-spacing:0.2px;">(±3.2)</div>
<div class="t" style="top:525px;font-size:10.7px;line-height:10.7px;right:383.00px;">233</div>
<div class="t" style="top:525px;font-size:10.7px;line-height:10.7px;right:341.00px;">28.1</div>
<div class="t" style="top:525px;font-size:10.7px;line-height:10.7px;right:292.50px;letter-spacing:0.2px;">(±6.4)</div>
<div class="t" style="top:525px;font-size:10.7px;line-height:10.7px;right:244.70px;">242</div>
<div class="t" style="top:525px;font-size:10.7px;line-height:10.7px;right:206.00px;">21.2</div>
<div class="t" style="top:525px;font-size:10.7px;line-height:10.7px;right:157.30px;letter-spacing:0.2px;">(±5.9)</div>
<div class="t" style="top:525px;font-size:10.7px;line-height:10.7px;font-weight:bold;-webkit-text-stroke:0.25px currentColor;right:103.10px;">1,549</div>
<div class="t" style="top:525px;font-size:10.7px;line-height:10.7px;font-weight:bold;-webkit-text-stroke:0.25px currentColor;right:72.00px;">33.0</div>
<div class="t" style="top:525px;font-size:10.7px;line-height:10.7px;font-weight:bold;-webkit-text-stroke:0.25px currentColor;right:19.50px;letter-spacing:0.2px;">(±2.7)</div>
<div class="t" style="top:539px;font-size:10.7px;line-height:10.7px;left:18.90px;"><svg class="ge" width="7" height="10" viewBox="0 0 7 10"><polyline points="1,2.9 6.4,5 1,7.1" fill="none" stroke="currentColor" stroke-width="0.95" stroke-linejoin="round"/><rect x="-0.2" y="8.2" width="7.9" height="0.9" fill="currentColor"/></svg>6</div>
<div class="t" style="top:539px;font-size:10.7px;line-height:10.7px;right:520.60px;">1,320</div>
<div class="t" style="top:539px;font-size:10.7px;line-height:10.7px;right:479.10px;">42.8</div>
<div class="t" style="top:539px;font-size:10.7px;line-height:10.7px;right:433.00px;letter-spacing:0.2px;">(±2.9)</div>
<div class="t" style="top:539px;font-size:10.7px;line-height:10.7px;right:383.00px;">317</div>
<div class="t" style="top:539px;font-size:10.7px;line-height:10.7px;right:341.00px;">39.2</div>
<div class="t" style="top:539px;font-size:10.7px;line-height:10.7px;right:292.50px;letter-spacing:0.2px;">(±6.3)</div>
<div class="t" style="top:539px;font-size:10.7px;line-height:10.7px;right:244.70px;">272</div>
<div class="t" style="top:539px;font-size:10.7px;line-height:10.7px;right:206.00px;">39.6</div>
<div class="t" style="top:539px;font-size:10.7px;line-height:10.7px;right:157.30px;letter-spacing:0.2px;">(±7.8)</div>
<div class="t" style="top:539px;font-size:10.7px;line-height:10.7px;font-weight:bold;-webkit-text-stroke:0.25px currentColor;right:103.10px;">1,909</div>
<div class="t" style="top:539px;font-size:10.7px;line-height:10.7px;font-weight:bold;-webkit-text-stroke:0.25px currentColor;right:72.00px;">42.0</div>
<div class="t" style="top:539px;font-size:10.7px;line-height:10.7px;font-weight:bold;-webkit-text-stroke:0.25px currentColor;right:19.50px;letter-spacing:0.2px;">(±2.5)</div>
<div class="r" style="left:8px;top:551px;width:721px;height:1px"></div>
<div class="t" style="right:718.7px;top:554.76px;font-size:9.5px;line-height:9.5px">*</div>
<div class="t" style="top:556px;left:20.2px;font-size:10.5px;line-height:10.5px;letter-spacing:0.05px;">Unweighted sample sizes.</div>
<div class="t" style="right:718.7px;top:566.30px;font-size:9.8px;line-height:9.8px">†</div>
<div class="t" style="top:568px;left:20.2px;font-size:10.5px;line-height:10.5px;letter-spacing:0.05px;">Weighted proportions</div>
<div class="t" style="right:718.7px;top:578.93px;font-size:10.0px;line-height:10.0px">§</div>
<div class="t" style="top:580px;left:20.2px;font-size:10.5px;line-height:10.5px;letter-spacing:0.05px;word-spacing:0.692px;">Persons reported one or more of the following: ever being told by a physician they had diabetes, emphysema, coronary heart disease, angina, heart</div>
<div class="t" style="top:592px;left:20.2px;font-size:10.5px;line-height:10.5px;letter-spacing:0.05px;word-spacing:-0.250px;">attack, or other heart condition; receiving a diagnosis of cancer during the preceding 12 months (excluding nonmelanoma skin cancer) or ever being told</div>
<div class="t" style="top:604px;left:20.2px;font-size:10.5px;line-height:10.5px;letter-spacing:0.05px;word-spacing:0.093px;">by a physician they had lymphoma, leukemia, or blood cancer; being told by a physician during the preceding 12 months they had chronic bronchitis or</div>
<div class="t" style="top:616px;left:20.2px;font-size:10.5px;line-height:10.5px;letter-spacing:0.05px;">weak or failing kidneys; or having an asthma episode or attack during the preceding 12 months.</div>
<div class="t" style="right:718.7px;top:626.23px;font-size:9.3px;line-height:9.3px">¶</div>
<div class="t" style="top:628px;left:20.2px;font-size:10.5px;line-height:10.5px;letter-spacing:0.05px;">Confidence interval.</div>
<div class="t" style="right:718.7px;top:638.76px;font-size:9.5px;line-height:9.5px">**</div>
<div class="t" style="top:640px;left:20.2px;font-size:10.5px;line-height:10.5px;letter-spacing:0.05px;word-spacing:0.612px;"><i>Northeast:</i> Connecticut, Maine, Massachusetts, New Hampshire, New Jersey, New York, Pennsylvania, Rhode Island, and Vermont; <i>Midwest:</i> Illinois,</div>
<div class="t" style="top:652px;left:20.2px;font-size:10.5px;line-height:10.5px;letter-spacing:0.05px;word-spacing:0.042px;">Indiana, Iowa, Kansas, Michigan, Minnesota, Missouri, Nebraska, North Dakota, Ohio, South Dakota, and Wisconsin; <i>South:</i> Alabama, Arkansas, Dela-</div>
<div class="t" style="top:664px;left:20.2px;font-size:10.5px;line-height:10.5px;letter-spacing:0.05px;word-spacing:0.033px;">ware, District of Columbia, Florida, Georgia, Kentucky, Louisiana, Maryland, Mississippi, North Carolina, Oklahoma, South Carolina, Tennessee, Texas,</div>
<div class="t" style="top:676px;left:20.2px;font-size:10.5px;line-height:10.5px;letter-spacing:0.05px;word-spacing:-0.099px;">Virginia, and West Virginia; <i>West:</i> Alaska, Arizona, California, Colorado, Hawaii, Idaho, Montana, Nevada, New Mexico, Oregon, Utah, Washington, and</div>
<div class="t" style="top:688px;left:20.2px;font-size:10.5px;line-height:10.5px;letter-spacing:0.05px;">Wyoming.</div>
<div class="t" style="right:718.7px;top:698.30px;font-size:9.8px;line-height:9.8px">††</div>
<div class="t" style="top:700px;left:20.2px;font-size:10.5px;line-height:10.5px;letter-spacing:0.05px;">Language in which the interview was conducted.</div>
<div class="t" style="right:718.7px;top:710.93px;font-size:10.0px;line-height:10.0px">§§</div>
<div class="t" style="top:712px;left:20.2px;font-size:10.5px;line-height:10.5px;letter-spacing:0.05px;">Sample size insufficient for analysis (&lt;30 sampled respondents or relative standard error &gt;0.3).</div>
<div class="t" style="right:718.7px;top:722.23px;font-size:9.3px;line-height:9.3px">¶¶</div>
<div class="t" style="top:724px;left:20.2px;font-size:10.5px;line-height:10.5px;letter-spacing:0.05px;">During the preceding 12 months.</div>
</body></html>
